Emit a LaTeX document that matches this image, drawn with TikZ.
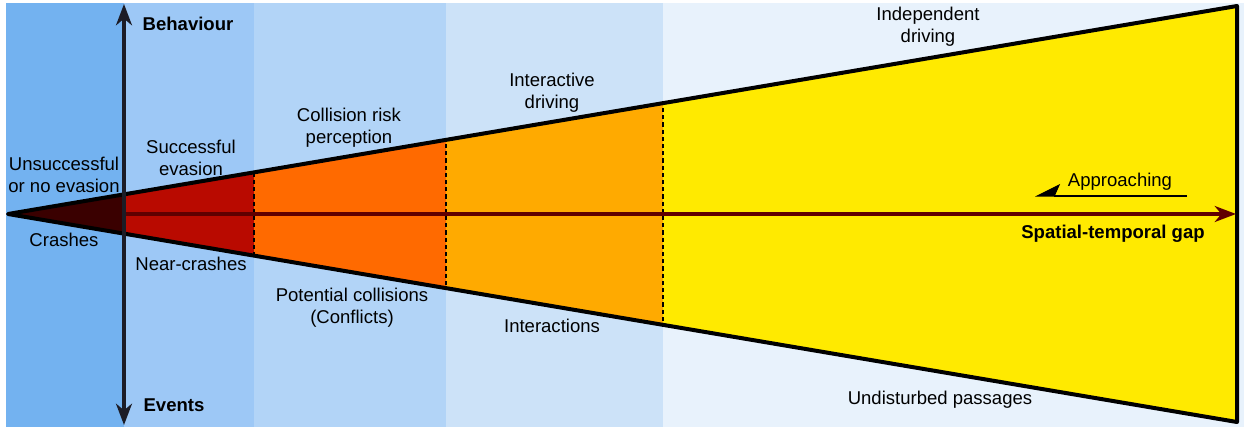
\documentclass[tikz,border=0pt]{standalone}
\usepackage{fontspec}
\setmainfont{Liberation Sans}
\usepackage{xcolor}
\usetikzlibrary{arrows.meta}
\definecolor{bandA}{RGB}{115,178,240}
\definecolor{bandB}{RGB}{157,200,246}
\definecolor{bandC}{RGB}{178,212,247}
\definecolor{bandD}{RGB}{204,226,248}
\definecolor{bandE}{RGB}{232,242,252}
\definecolor{crashcol}{RGB}{58,0,0}
\definecolor{nearcol}{RGB}{185,10,0}
\definecolor{riskcol}{RGB}{255,106,0}
\definecolor{intercol}{RGB}{255,170,0}
\definecolor{indepcol}{RGB}{255,234,0}
\definecolor{gapcol}{RGB}{96,0,0}
\definecolor{axiscol}{RGB}{28,28,38}

\begin{document}
\begin{tikzpicture}[x=0.75pt,y=-0.75pt]
\tikzstyle{lbl} = [align=center, inner sep=0pt, font=\fontsize{13.9}{16.8}\selectfont]
\tikzstyle{bold lbl} = [lbl, font=\fontsize{13.9}{16.8}\selectfont\bfseries]
\tikzstyle{sep} = [line width=1.2pt, dash pattern=on 3.2pt off 2.2pt]
\useasboundingbox (0,0) rectangle (1244,427);
\fill[white] (0,0) rectangle (1244,427);
\fill[bandA] (6,3) rectangle (124,427);
\fill[bandB] (124,3) rectangle (254,427);
\fill[bandC] (254,3) rectangle (446,427);
\fill[bandD] (446,3) rectangle (663,427);
\fill[bandE] (663,3) rectangle (1244,427);
\coordinate (apex) at (8,214);
\coordinate (wtop) at (1237,6);
\coordinate (wbot) at (1237,422);
\begin{scope}
	\clip (apex) -- (wtop) -- (wbot) -- cycle;
	\fill[crashcol] (0,0) rectangle (124,427);
	\fill[nearcol] (124,0) rectangle (254,427);
	\fill[riskcol] (254,0) rectangle (446,427);
	\fill[intercol] (446,0) rectangle (663,427);
	\fill[indepcol] (663,0) rectangle (1244,427);
	\draw[sep] (254,0) -- (254,427);
	\draw[sep] (446,0) -- (446,427);
	\draw[sep] (663,0) -- (663,427);
\end{scope}
\draw[line width=3pt, line join=round] (apex) -- (wtop) -- (wbot) -- cycle;
\coordinate (gapstart) at (124,214);
\coordinate (gapend) at (1236,214);
\draw[gapcol, line width=2.3pt, -{Stealth[length=16pt, width=12pt, inset=5pt]}] (gapstart) -- (gapend);
\coordinate (axtop) at (124,4);
\coordinate (axbot) at (124,425);
\draw[axiscol, line width=2.3pt, {Stealth[length=16pt, width=12pt, inset=5pt]}-{Stealth[length=16pt, width=12pt, inset=5pt]}] (axtop) -- (axbot);
\coordinate (apprstart) at (1187,196);
\coordinate (apprend) at (1035,196);
\draw[line width=0.8pt, -{Stealth[harpoon, swap, length=18pt, width=18pt, inset=4pt]}] (apprstart) -- (apprend);
\node[bold lbl] (behaviour) at (188,24) {Behaviour};
\node[bold lbl] (events) at (174,405) {Events};
\node[lbl] (unsucc) at (64,175) {Unsuccessful\\or no evasion};
\node[lbl] (crashes) at (64,240) {Crashes};
\node[lbl] (succ) at (191,158) {Successful\\evasion};
\node[lbl] (nearcr) at (191,264) {Near-crashes};
\node[lbl] (risk) at (349,128) {Collision risk\\perception};
\node[lbl] (potcol) at (352,308) {Potential collisions\\(Conflicts)};
\node[lbl] (interdr) at (552,93) {Interactive\\driving};
\node[lbl] (interact) at (552,326) {Interactions};
\node[lbl] (indep) at (928,27) {Independent\\driving};
\node[lbl] (undist) at (940,400) {Undisturbed passages};
\node[lbl] (appr) at (1120,182) {Approaching};
\node[bold lbl] (gap) at (1113,234) {Spatial-temporal gap};
\end{tikzpicture}
\end{document}
